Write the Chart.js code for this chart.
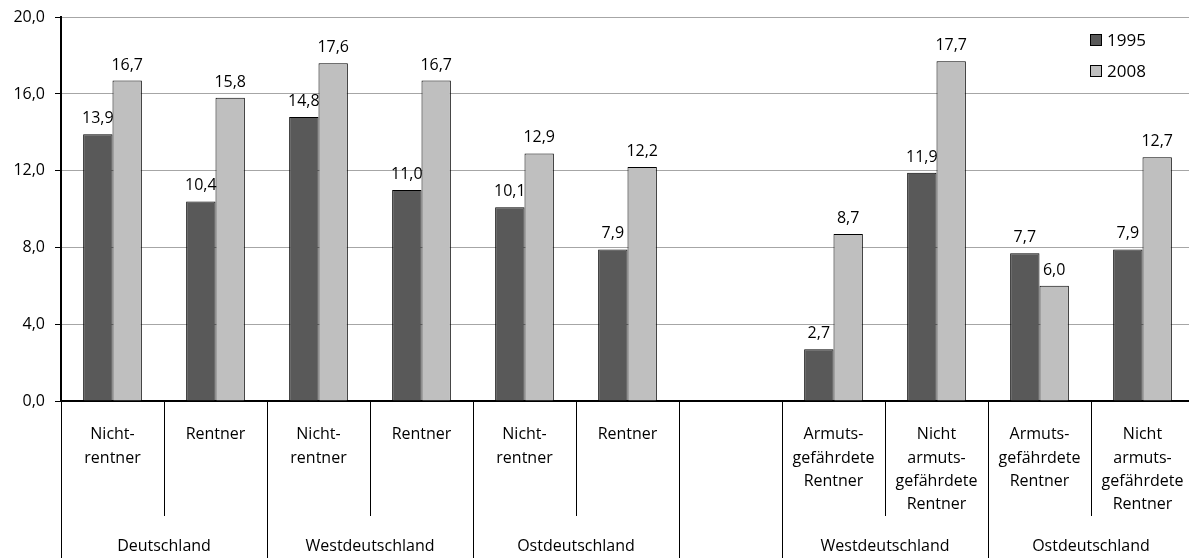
<!DOCTYPE html>
<html>
<head>
<meta charset="utf-8">
<script src="https://cdn.jsdelivr.net/npm/chart.js@4/dist/chart.umd.min.js"></script>
<style>
  html, body { margin: 0; padding: 0; background: #fff; overflow: hidden; }
  #wrap { width: 1200px; height: 558px; }
</style>
</head>
<body>
<div id="wrap"><canvas id="bar-chart"></canvas></div>
<script>
const categories = [
    ["Nicht-", "rentner"], ["Rentner"],
    ["Nicht-", "rentner"], ["Rentner"],
    ["Nicht-", "rentner"], ["Rentner"],
    "",
    ["Armuts-", "gefährdete", "Rentner"], ["Nicht", "armuts-", "gefährdete", "Rentner"],
    ["Armuts-", "gefährdete", "Rentner"], ["Nicht", "armuts-", "gefährdete", "Rentner"],
];
const groupLabels = ["Deutschland", "Westdeutschland", "Ostdeutschland", "", "Westdeutschland", "Ostdeutschland"];
const groupSpans = [2, 2, 2, 1, 2, 2];
const values1995 = [13.9, 10.4, 14.8, 11.0, 10.1, 7.9, null, 2.7, 11.9, 7.7, 7.9];
const values2008 = [16.7, 15.8, 17.6, 16.7, 12.9, 12.2, null, 8.7, 17.7, 6.0, 12.7];
const seriesNames = ["1995", "2008"];

const FONT = "'Open Sans', sans-serif";
const fmt = (v) => v.toFixed(1).replace(".", ",");

// bar value labels
const valueLabels = {
    id: "valueLabels",
    afterDatasetsDraw(chart) {
        const c = chart.ctx;
        c.save();
        c.font = "16px " + FONT;
        c.fillStyle = "#000";
        c.textAlign = "center";
        c.textBaseline = "alphabetic";
        chart.data.datasets.forEach((ds, i) => {
            chart.getDatasetMeta(i).data.forEach((bar, j) => {
                if (ds.data[j] == null) return;
                c.fillText(fmt(ds.data[j]), bar.x, bar.y - 11);
            });
        });
        c.restore();
    },
};

// separators + group labels under the x axis, plus legend box
const axisExtras = {
    id: "axisExtras",
    afterDraw(chart) {
        const c = chart.ctx;
        const area = chart.chartArea;
        const w = (area.right - area.left) / categories.length;
        const top = area.bottom;
        c.save();
        c.strokeStyle = "#000";
        c.lineWidth = 1;
        let idx = 0;
        const longs = [0];
        groupSpans.forEach((s) => { idx += s; longs.push(idx); });
        for (let i = 0; i <= categories.length; i++) {
            const px = Math.round(area.left + i * w) + 0.5;
            c.beginPath();
            c.moveTo(px, top);
            c.lineTo(px, longs.includes(i) ? chart.height : 516);
            c.stroke();
        }
        // group labels
        c.font = "16px " + FONT;
        c.fillStyle = "#000";
        c.textAlign = "center";
        c.textBaseline = "middle";
        idx = 0;
        groupLabels.forEach((g, k) => {
            const cx = area.left + (idx + groupSpans[k] / 2) * w;
            if (g) c.fillText(g, cx, 546);
            idx += groupSpans[k];
        });
        // legend
        c.textAlign = "left";
        c.font = "17px " + FONT;
        chart.data.datasets.forEach((ds, i) => {
            const ly = 40 + i * 31;
            c.fillStyle = ds.backgroundColor;
            c.fillRect(1090.5, ly - 5.5, 11, 11);
            c.strokeRect(1090.5, ly - 5.5, 11, 11);
            c.fillStyle = "#000";
            c.fillText(ds.label, 1107, ly + 1);
        });
        c.restore();
    },
};

new Chart(document.getElementById("bar-chart"), {
    type: "bar",
    data: {
        labels: categories,
        datasets: [
            {
                label: seriesNames[0],
                data: values1995,
                backgroundColor: "#595959",
                borderColor: "#000",
                borderWidth: 1,
            },
            {
                label: seriesNames[1],
                data: values2008,
                backgroundColor: "#BFBFBF",
                borderColor: "#000",
                borderWidth: 1,
            },
        ],
    },
    options: {
        responsive: true,
        maintainAspectRatio: false,
        animation: false,
        layout: { padding: { top: 15, right: 6, left: 0, bottom: 0 } },
        datasets: { bar: { categoryPercentage: 0.57, barPercentage: 1 } },
        scales: {
            x: {
                grid: { display: false },
                border: { color: "#000", width: 2 },
                ticks: {
                    color: "#000",
                    font: { family: FONT, size: 16, lineHeight: 1.46 },
                    padding: 14,
                    maxRotation: 0,
                    autoSkip: false,
                },
                afterFit(s) { s.height = 157; },
            },
            y: {
                min: 0,
                max: 20,
                ticks: {
                    stepSize: 4,
                    color: "#000",
                    padding: 10,
                    font: { family: FONT, size: 16, lineHeight: 0.9 },
                    callback: (v) => fmt(v),
                },
                grid: { color: "#A6A6A6", tickColor: "#000", tickLength: 6 },
                border: { color: "#000", width: 2 },
                afterFit(s) { s.width = 61; },
            },
        },
        plugins: {
            legend: { display: false },
            tooltip: { enabled: false },
        },
    },
    plugins: [valueLabels, axisExtras],
});
</script>
</body>
</html>
